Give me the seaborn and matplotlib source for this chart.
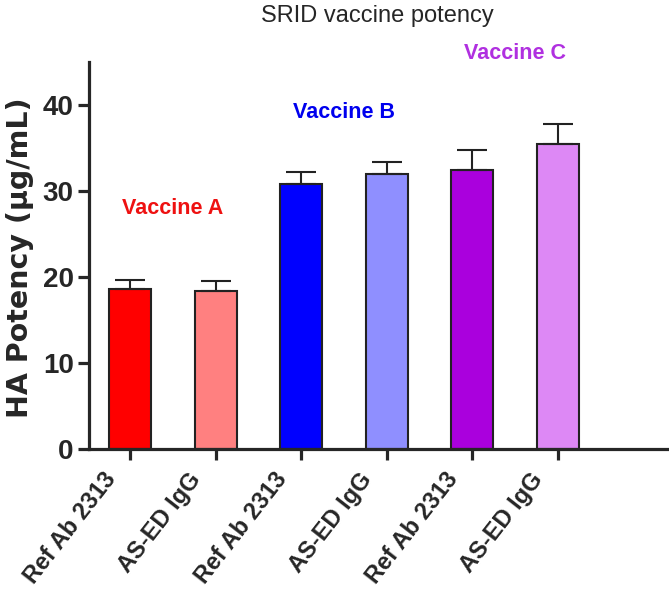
import numpy as np
import pandas as pd
import seaborn as sns
import matplotlib.pyplot as plt

# values
vaccines = ['Vaccine A', 'Vaccine A', 'Vaccine B', 'Vaccine B', 'Vaccine C', 'Vaccine C']
antibodies = ['Ref Ab 2313', 'AS-ED IgG', 'Ref Ab 2313', 'AS-ED IgG', 'Ref Ab 2313', 'AS-ED IgG']
potency = [18.6, 18.4, 30.8, 32.0, 32.4, 35.5]
sem = [1.1, 1.1, 1.4, 1.35, 2.4, 2.25]
bar_colors = ['#ff0000', '#ff8080', '#0000ff', '#8f8fff', '#aa00dd', '#dd88f5']

group_names = ['Vaccine A', 'Vaccine B', 'Vaccine C']
group_colors = ['#ee1111', '#0000ee', '#b030e0']
group_label_y = [28.0, 39.2, 46.0]

sns.set_style('ticks')
plt.rcParams['font.family'] = ['Liberation Sans', 'DejaVu Sans']

df = pd.DataFrame({'vaccine': vaccines, 'antibody': antibodies,
                   'potency': potency, 'sem': sem})
df['key'] = df['vaccine'] + ' / ' + df['antibody']

fig = plt.figure(figsize=(6.69, 5.92), dpi=100)
ax = fig.add_axes([0.133, 0.2416, 0.867, 0.6534])

sns.barplot(data=df, x='key', y='potency', hue='key', palette=bar_colors,
            width=0.49, edgecolor='#222222', linewidth=1.5, legend=False,
            saturation=1, ax=ax)
pos = np.arange(len(df))
ax.errorbar(pos, df['potency'], yerr=[np.zeros(len(df)), df['sem']],
            fmt='none', ecolor='#222222', elinewidth=1.5, capsize=10.5,
            capthick=1.5, zorder=1)

for i, (name, col, y) in enumerate(zip(group_names, group_colors, group_label_y)):
    ax.text(2 * i + 0.5, y, name, color=col, fontsize=15.5, fontweight='bold',
            ha='center', va='center', clip_on=False)

ax.set_ylim(0, 45)
ax.set_xlim(-0.48, 6.3)
ax.set_yticks([0, 10, 20, 30, 40])
ax.set_xticks(pos)
ax.set_xticklabels([])
# category labels, nudged left/down of each tick like the original
for i, lab in zip(pos, antibodies):
    ax.annotate(lab, xy=(i, 0), xycoords=('data', 'axes fraction'),
                xytext=(-20, -14), textcoords='offset points',
                rotation=52, rotation_mode='anchor', ha='right', va='top',
                fontsize=17, fontweight='bold', annotation_clip=False)
for t in ax.get_yticklabels():
    t.set_fontsize(20)
    t.set_fontweight('bold')
ax.set_xlabel('')
ax.set_ylabel('HA Potency (µg/mL)', fontsize=20.5, fontweight='bold',
              family='DejaVu Sans')
ax.yaxis.set_label_coords(-0.095, 0.494)

sns.despine(ax=ax)
for s in ['left', 'bottom']:
    ax.spines[s].set_linewidth(2.3)
ax.tick_params(axis='both', width=2.3, length=8, pad=3)

fig.text(0.564, 0.973, 'SRID vaccine potency', fontsize=17, ha='center', va='center')

fig.savefig('out.png', dpi=100)
